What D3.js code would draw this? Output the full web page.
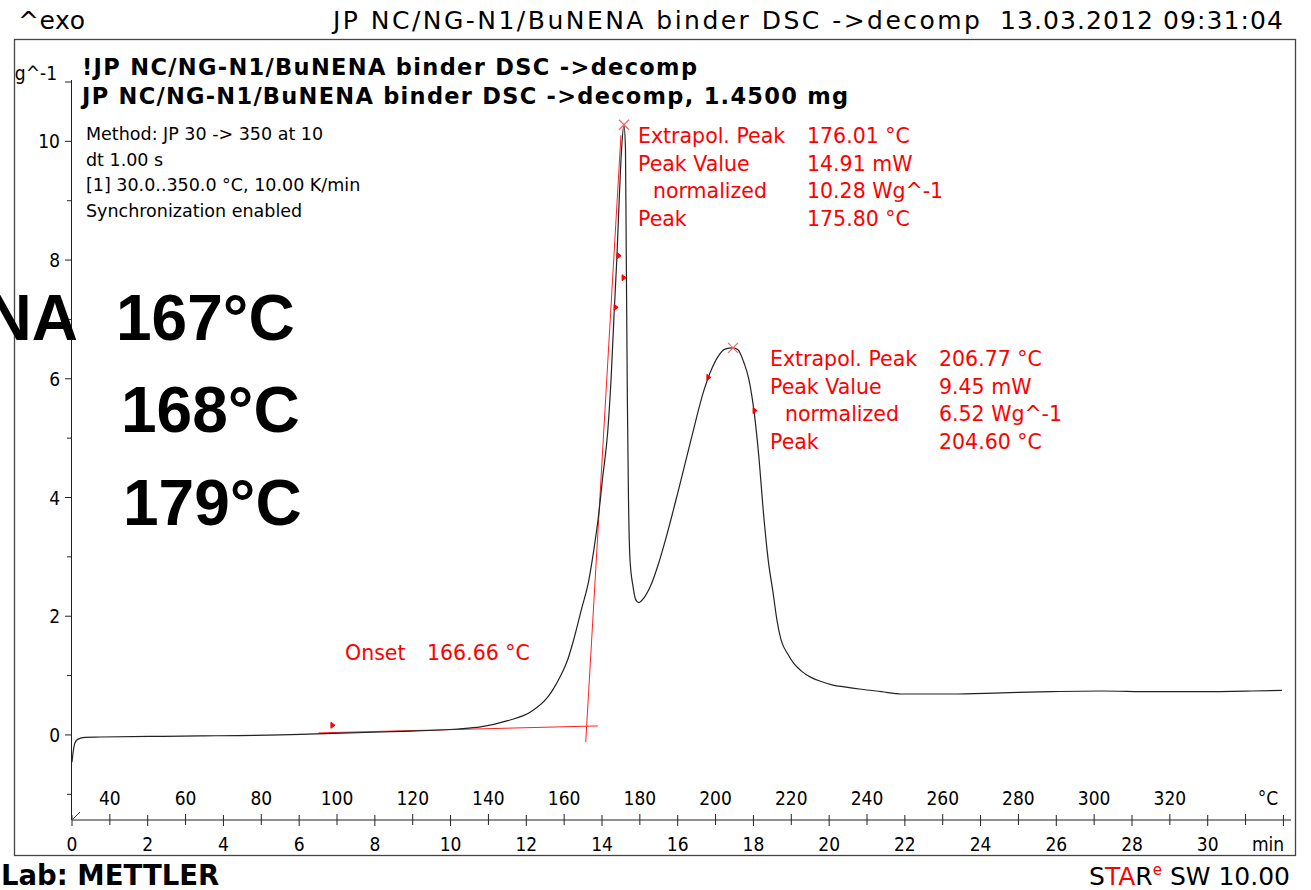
<!DOCTYPE html>
<html>
<head>
<meta charset="utf-8">
<script src="https://cdn.jsdelivr.net/npm/d3@7"></script>
<style>
  body { margin: 0; background: #fff; }
  svg { display: block; }
  .hdr { font-family: "DejaVu Sans", Verdana, sans-serif; }
  .tick { font-family: "DejaVu Sans Condensed", "DejaVu Sans", sans-serif; font-stretch: condensed; font-size: 19px; }
  .red { fill: #ff0000; font-family: "DejaVu Sans", Verdana, sans-serif; font-size: 20.5px; }
  .big { font-family: "Liberation Sans", Arial, sans-serif; font-weight: bold; font-size: 64px; }
</style>
</head>
<body>
<svg width="1311" height="890"></svg>
<script>
// DSC curve: temperature (°C) and normalized heat flow (W/g)
var curveTemp = [30, 30.3, 30.8, 31.6, 33.4, 37.4, 50.6, 63.9, 90.3, 103.5, 116.8, 131.9, 137.9, 145.1,
  151.2, 155.7, 157.2, 159.1, 161.0, 162.5, 164.5, 166.5, 167.8, 169.0, 170.2, 171.5, 172.4, 173.2,
  173.9, 174.6, 175.2, 175.8, 176.2, 176.4, 176.7, 177.0, 177.4, 178.2, 178.9, 179.7, 181.1, 182.9, 185.0,
  186.3, 190.1, 193.5, 196.9, 198.8, 200.6, 202.5, 204.6, 205.9, 207.5, 208.8, 210.2, 211.5, 212.5,
  213.9, 215.2, 216.2, 217.3, 219.2, 220.7, 222.6, 225.2, 227.9, 231.0, 234.0, 238.5, 243.8, 249.0, 262.3,
  275.5, 288.7, 302.0, 315.2, 328.4, 341.6, 349.6];
var curveValue = [-0.46, -0.29, -0.13, -0.07, -0.04, -0.035, -0.025, -0.017, 0.008, 0.034, 0.06, 0.10, 0.135, 0.24,
  0.39, 0.64, 0.78, 1.0, 1.28, 1.6, 2.1, 2.6, 3.1, 3.65, 4.35, 5.1, 6.0, 7.1,
  8.0, 9.1, 9.9, 10.28, 9.87, 8.18, 5.65, 3.96, 2.95, 2.50, 2.28, 2.23, 2.31, 2.52, 2.90,
  3.18, 4.10, 4.97, 5.80, 6.14, 6.37, 6.50, 6.52, 6.49, 6.27, 5.99, 5.43, 4.64, 3.85,
  2.95, 2.39, 1.94, 1.60, 1.35, 1.20, 1.08, 0.97, 0.90, 0.84, 0.81, 0.77, 0.73, 0.69, 0.69,
  0.71, 0.73, 0.74, 0.73, 0.73, 0.74, 0.75];

// evaluation marks
var baseLineT = [95.1, 168.9], baseLineV = [0.034, 0.152];
var tangentT = [165.7, 175.0], tangentV = [-0.12, 10.1];
var peakT = [175.8, 204.6], peakV = [10.28, 6.52];
var flagT = [98.4, 173.2, 174.0, 175.3, 197.7, 209.9];
var flagV = [0.13, 7.17, 8.04, 7.67, 5.99, 5.43];

// axes
var yMajor = [0, 2, 4, 6, 8, 10];
var yMinor = [-1, 1, 3, 5, 7, 9];
var minLabels = [0, 2, 4, 6, 8, 10, 12, 14, 16, 18, 20, 22, 24, 26, 28, 30];
var tempLabels = [40, 60, 80, 100, 120, 140, 160, 180, 200, 220, 240, 260, 280, 300, 320];

// texts
var headerTitle = "JP NC/NG-N1/BuNENA binder DSC ->decomp";
var headerDate = "13.03.2012 09:31:04";
var curveNames = ["!JP NC/NG-N1/BuNENA binder DSC ->decomp", "JP NC/NG-N1/BuNENA binder DSC ->decomp, 1.4500 mg"];
var methodLines = ["Method: JP 30 -> 350 at 10", "dt 1.00 s", "[1] 30.0..350.0 °C, 10.00 K/min", "Synchronization enabled"];
var peakLabels = ["Extrapol. Peak", "Peak Value", "normalized", "Peak"];
var peak1Values = ["176.01 °C", "14.91 mW", "10.28 Wg^-1", "175.80 °C"];
var peak2Values = ["206.77 °C", "9.45 mW", "6.52 Wg^-1", "204.60 °C"];
var onsetText = ["Onset", "166.66 °C"];
var bigTemps = ["167°C", "168°C", "179°C"];

var svg = d3.select("svg");

var x = d3.scaleLinear().domain([0, 32.2]).range([72, 1291]);       // minutes
var xT = d3.scaleLinear().domain([30, 352]).range([72, 1291]);      // °C, 10 K/min
var y = d3.scaleLinear().domain([-1.433, 11]).range([820, 82]);

// frame
svg.append("rect")
    .attr("x", 14.5).attr("y", 39.5)
    .attr("width", 1281).attr("height", 816)
    .attr("fill", "none").attr("stroke", "#444").attr("stroke-width", 1.3);

// header
svg.append("text").attr("class", "hdr").attr("x", 18).attr("y", 29)
    .attr("font-size", 25).attr("textLength", 67).text("^exo");
svg.append("text").attr("class", "hdr").attr("x", 333).attr("y", 29)
    .attr("font-size", 25).attr("textLength", 647).text(headerTitle);
svg.append("text").attr("class", "hdr").attr("x", 1000).attr("y", 29)
    .attr("font-size", 25).attr("textLength", 283).text(headerDate);

// curve names
svg.selectAll(".cname").data(curveNames).enter().append("text")
    .attr("class", "hdr cname")
    .attr("x", 82).attr("y", function(d, i) { return 75 + i * 29; })
    .attr("font-size", 22.5).attr("font-weight", "bold")
    .attr("textLength", function(d, i) { return i == 0 ? 615 : 766; })
    .text(function(d) { return d; });

// method info
svg.selectAll(".meth").data(methodLines).enter().append("text")
    .attr("class", "hdr meth")
    .attr("x", 86).attr("y", function(d, i) { return 140 + i * 25.5; })
    .attr("font-size", 17.5)
    .text(function(d) { return d; });

// clip for things cut off by frame
svg.append("clipPath").attr("id", "frameclip")
  .append("rect").attr("x", 15).attr("y", 40).attr("width", 1280).attr("height", 815);

// y axis
svg.append("line").attr("x1", 71.5).attr("x2", 71.5).attr("y1", 80).attr("y2", 820)
    .attr("stroke", "#222").attr("stroke-width", 1);
var ga = svg.append("g");
ga.selectAll(".ymaj").data(yMajor.concat([11])).enter().append("line")
    .attr("x1", 65).attr("x2", 71.5)
    .attr("y1", function(d) { return y(d); }).attr("y2", function(d) { return y(d); })
    .attr("stroke", "#222");
ga.selectAll(".ymin").data(yMinor).enter().append("line")
    .attr("x1", 67).attr("x2", 71.5)
    .attr("y1", function(d) { return y(d); }).attr("y2", function(d) { return y(d); })
    .attr("stroke", "#222");
ga.selectAll(".ylab").data(yMajor).enter().append("text")
    .attr("class", "tick").attr("text-anchor", "end")
    .attr("x", 60).attr("y", function(d) { return y(d) + 7; })
    .text(function(d) { return d; });
svg.append("text").attr("class", "tick").attr("text-anchor", "end")
    .attr("clip-path", "url(#frameclip)")
    .attr("x", 57).attr("y", y(11) - 2).text("Wg^-1");

// x axis (time + temperature)
svg.append("line").attr("x1", 72).attr("x2", 1291).attr("y1", 820).attr("y2", 820)
    .attr("stroke", "#222");
svg.append("line").attr("x1", 72).attr("x2", 80).attr("y1", 820).attr("y2", 812)
    .attr("stroke", "#444");
ga.selectAll(".xt").data(d3.range(0, 33)).enter().append("line")
    .attr("x1", function(d) { return x(d); }).attr("x2", function(d) { return x(d); })
    .attr("y1", function(d) { return d % 2 ? 814 : 815; })
    .attr("y2", function(d) { return d % 2 ? 825 : 826; })
    .attr("stroke", "#222");
ga.selectAll(".xl").data(minLabels).enter().append("text")
    .attr("class", "tick").attr("text-anchor", "middle")
    .attr("x", function(d) { return x(d); }).attr("y", 851)
    .text(function(d) { return d; });
svg.append("text").attr("class", "tick").attr("text-anchor", "middle")
    .attr("x", 1268).attr("y", 851).text("min");
ga.selectAll(".tl").data(tempLabels).enter().append("text")
    .attr("class", "tick").attr("text-anchor", "middle")
    .attr("x", function(d) { return xT(d); }).attr("y", 805)
    .text(function(d) { return d; });
svg.append("text").attr("class", "tick").attr("text-anchor", "middle")
    .attr("x", 1268).attr("y", 805).text("°C");

// red evaluation lines
function seg(ts, vs) {
  svg.append("line")
      .attr("x1", xT(ts[0])).attr("y1", y(vs[0]))
      .attr("x2", xT(ts[1])).attr("y2", y(vs[1]))
      .attr("stroke", "#ff2020").attr("stroke-width", 1);
}
seg(baseLineT, baseLineV);
seg(tangentT, tangentV);

// curve
var line = d3.line()
    .x(function(d) { return xT(d[0]); })
    .y(function(d) { return y(d[1]); })
    .curve(d3.curveMonotoneX);
svg.append("path")
    .datum(d3.zip(curveTemp, curveValue))
    .attr("d", line)
    .attr("fill", "none").attr("stroke", "#222").attr("stroke-width", 1.2);

// peak crosses
svg.selectAll(".pk").data(d3.zip(peakT, peakV)).enter().append("path")
    .attr("d", function(d) {
      var px = xT(d[0]), py = y(d[1]), s = 5;
      return "M" + (px - s) + "," + (py - s) + "L" + (px + s) + "," + (py + s) +
             "M" + (px - s) + "," + (py + s) + "L" + (px + s) + "," + (py - s);
    })
    .attr("stroke", "#ff6060").attr("stroke-width", 1.2);

// integration limit flags
svg.selectAll(".fl").data(d3.zip(flagT, flagV)).enter().append("path")
    .attr("d", function(d) {
      var px = xT(d[0]), py = y(d[1]);
      return "M" + px + "," + (py - 5) + "L" + (px + 4) + "," + (py - 2) + "L" + px + "," + (py + 1) + "Z";
    })
    .attr("fill", "#ff0000").attr("stroke", "#ff0000").attr("stroke-width", 1);

// peak annotations
function annot(x0, x1, y0, vals) {
  peakLabels.forEach(function(l, i) {
    svg.append("text").attr("class", "red")
        .attr("x", x0 + (i == 2 ? 15 : 0)).attr("y", y0 + i * 27.7).text(l);
    svg.append("text").attr("class", "red")
        .attr("x", x1).attr("y", y0 + i * 27.7).text(vals[i]);
  });
}
annot(638, 807, 143, peak1Values);
annot(770, 939, 366, peak2Values);
svg.append("text").attr("class", "red").attr("x", 345).attr("y", 660).text(onsetText[0]);
svg.append("text").attr("class", "red").attr("x", 427).attr("y", 660).text(onsetText[1]);

// big overlay temperatures
svg.append("text").attr("class", "big").attr("text-anchor", "end")
    .attr("x", 78).attr("y", 340).text("BuNENA");
var bx = [116, 121, 123], by = [340, 432, 525];
svg.selectAll(".bt").data(bigTemps).enter().append("text")
    .attr("class", "big")
    .attr("x", function(d, i) { return bx[i]; })
    .attr("y", function(d, i) { return by[i]; })
    .text(function(d) { return d; });

// footer
svg.append("text").attr("class", "hdr").attr("x", 1).attr("y", 885)
    .attr("font-size", 27.5).attr("font-weight", "bold").text("Lab: METTLER");
var star = svg.append("text").attr("class", "hdr").attr("x", 1290).attr("y", 885)
    .attr("font-size", 25).attr("text-anchor", "end");
star.append("tspan").text("S");
star.append("tspan").attr("fill", "#ff0000").text("TA");
star.append("tspan").text("R");
star.append("tspan").attr("fill", "#ff0000").attr("font-size", 15).attr("dy", -10).text("e");
star.append("tspan").attr("dy", 10).text(" SW 10.00");
</script>
</body>
</html>
